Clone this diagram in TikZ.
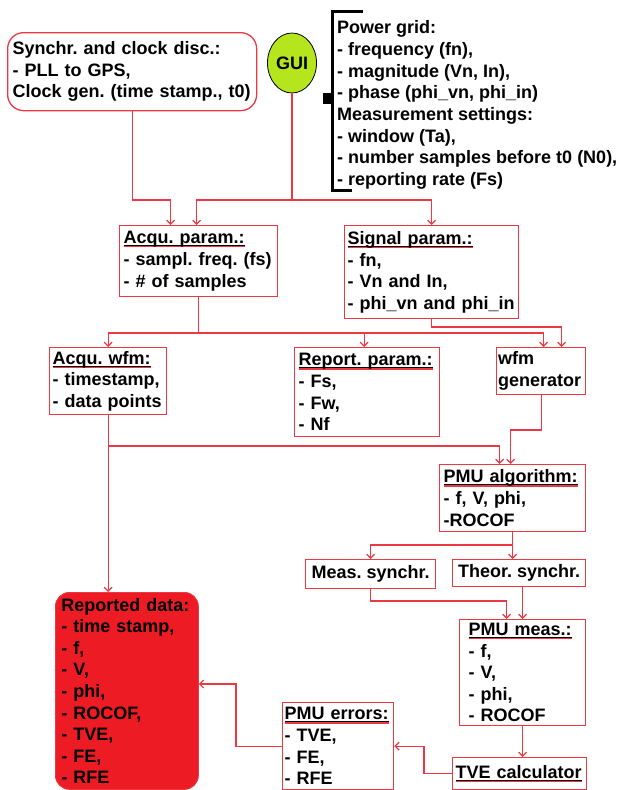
\documentclass[tikz,border=0pt]{standalone}
\usepackage{fontspec}
\setmainfont{Liberation Sans}
\usetikzlibrary{arrows.meta,shapes.geometric}
\definecolor{lred}{RGB}{236,56,66}
\definecolor{rdfill}{RGB}{237,28,36}
\definecolor{guifill}{RGB}{181,230,29}
\newcommand\ttl[1]{\setbox0=\hbox{#1}\rlap{\textcolor{lred}{\rule[-3.6pt]{\wd0}{1.2pt}}}\rlap{\rule[-1.9pt]{\wd0}{0.6pt}}\box0}
\frenchspacing
\begin{document}
\frenchspacing
\begin{tikzpicture}[x=1pt,y=-1pt,
  every node/.style={font=\bfseries\fontsize{18}{21.6}\selectfont\frenchspacing},
  box/.style={draw=lred, line width=1.3pt, anchor=north west, align=left, inner ysep=0pt, fill=white},
  cbox/.style={draw=lred, line width=1.3pt, anchor=north west, align=center, inner ysep=0pt, fill=white},
  arr/.style={draw=lred, line width=1.2pt, -{Straight Barb[length=4pt,width=8pt]}}]
\useasboundingbox (0,0) rectangle (620,790);

% nodes
\node[box, rounded corners=16pt, minimum width=249pt, minimum height=78pt, inner xsep=5pt, text width=239pt] (sync) at (7,32)
  {Synchr. and clock disc.:\\- PLL to GPS,\\Clock gen. (time stamp., t0)};
\node[draw=black, line width=0.8pt, fill=guifill, ellipse, minimum width=49pt, minimum height=60pt, inner sep=0pt] (gui) at (292,63) {GUI};
\node[anchor=north west, align=left, inner sep=0pt, font=\bfseries\fontsize{18}{21.7}\selectfont\frenchspacing] (pg) at (337,20.5)
  {Power grid:\\- frequency (fn),\\- magnitude (Vn, In),\\- phase (phi\_vn, phi\_in)\\Measurement settings:\\- window (Ta),\\- number samples before t0 (N0),\\- reporting rate (Fs)};
\draw[line width=3pt] (363,11) -- (332,11) -- (332,190) -- (352,190);
\fill (323,93) rectangle (333,104);

\node[box, minimum width=158pt, minimum height=71pt, inner xsep=4pt, text width=150pt] (acq) at (119,225)
  {\ttl{Acqu. param.:}\\- sampl. freq. (fs)\\- \# of samples};
\node[box, minimum width=174pt, minimum height=93pt, inner xsep=3pt, text width=168pt] (sig) at (344,225)
  {\ttl{Signal param.:}\\- fn,\\- Vn and In,\\- phi\_vn and phi\_in};
\node[box, minimum width=117pt, minimum height=67pt, inner xsep=3pt, text width=111pt] (awf) at (49,347)
  {\ttl{Acqu. wfm:}\\- timestamp,\\- data points};
\node[box, minimum width=145pt, minimum height=89pt, inner xsep=4pt, text width=137pt] (rep) at (294,347)
  {\ttl{Report. param.:}\\- Fs,\\- Fw,\\- Nf};
\node[box, minimum width=89pt, minimum height=47pt, inner xsep=1.5pt, text width=86pt] (wfm) at (496,347)
  {wfm\\generator};
\node[box, minimum width=146pt, minimum height=67pt, inner xsep=4pt, text width=138pt] (alg) at (439,464)
  {\ttl{PMU algorithm:}\\- f, V, phi,\\-ROCOF};
\node[cbox, minimum width=130pt, minimum height=29pt, inner xsep=1pt] (ms) at (305,559) {Meas. synchr.};
\node[cbox, minimum width=133pt, minimum height=27pt, inner xsep=1pt] (ts) at (452,559) {Theor. synchr.};
\node[box, minimum width=126pt, minimum height=106pt, inner xsep=9pt, text width=108pt] (pm) at (459,619)
  {\ttl{PMU meas.:}\\- f,\\- V,\\- phi,\\- ROCOF};
\node[box, minimum width=134pt, minimum height=32pt, inner xsep=3pt, text width=128pt] (tve) at (452,757)
  {\ttl{TVE calculator}};
\node[box, minimum width=111pt, minimum height=87pt, inner xsep=2pt, text width=107pt] (err) at (282,702)
  {\ttl{PMU errors:}\\- TVE,\\- FE,\\- RFE};
\node[box, draw=lred, line width=0.8pt, fill=rdfill, rounded corners=14pt, minimum width=143pt, minimum height=197pt, inner xsep=6pt, text width=131pt] (rd) at (55,592)
  {Reported data:\\- time stamp,\\- f,\\- V,\\- phi,\\- ROCOF,\\- TVE,\\- FE,\\- RFE};

% junction levels
\coordinate (r1) at (0,200);
\coordinate (r2) at (0,333);
\coordinate (r3) at (0,327);
\coordinate (r4) at (0,430);
\coordinate (r5) at (0,446);
\coordinate (r6) at (0,545);
\coordinate (r7) at (0,601);
\coordinate (k1) at (424,0);
\coordinate (k2) at (236,684);

% connectors
\draw[arr] (sync.south) -- (sync.south |- r1) -| ([xshift=-28pt]acq.north);
\draw[arr] (gui.south) -- (gui.south |- r1) -| ([xshift=-2pt]acq.north);
\draw[arr] (gui.south |- r1) -| (sig.north);
\draw[arr] (sig.south) -- (sig.south |- r3) -| ([xshift=20.5pt]wfm.north);
\draw[arr] (acq.south) -- (acq.south |- r2) -| (awf.north);
\draw[arr] (acq.south |- r2) -| ([xshift=-3pt]rep.north);
\draw[arr] (acq.south |- r2) -| ([xshift=2.5pt]wfm.north);
\draw[arr] (awf.south) -- (awf.south |- rd.north);
\draw[arr] (awf.south |- r5) -| ([xshift=-13pt]alg.north);
\draw[arr] (wfm.south) -- (wfm.south |- r4) -| ([xshift=-2pt]alg.north);
\draw[arr] (alg.south) -- (alg.south |- ts.north);
\draw[arr] (alg.south |- r6) -| (ms.north);
\draw[arr] (ms.south) -- (ms.south |- r7) -| ([xshift=-16pt]pm.north);
\draw[arr] (pm.north |- ts.south) -- (pm.north);
\draw[arr] (pm.south) -- (pm.south |- tve.north);
\draw[arr] (tve.west) -| (k1 |- err.east) -- (err.east);
\draw[arr] (err.west) -| (k2) -- (k2 -| rd.east);
\end{tikzpicture}
\end{document}
